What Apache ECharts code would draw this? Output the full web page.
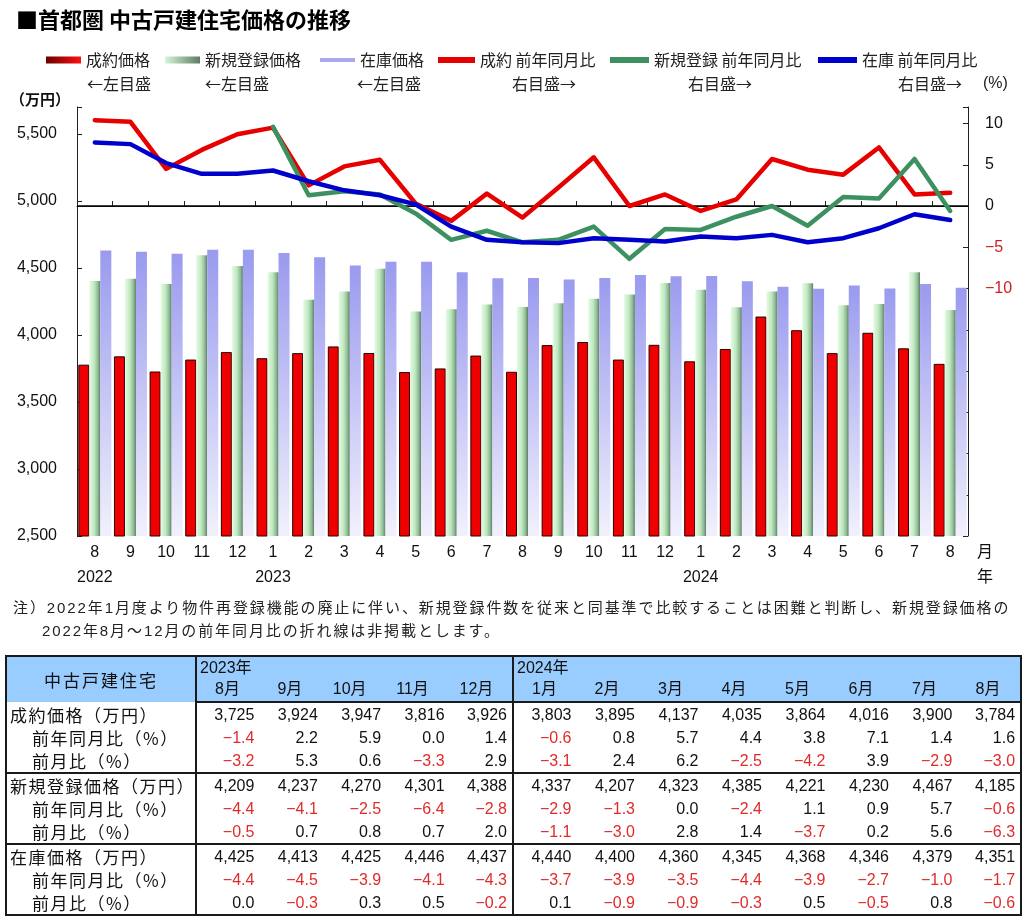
<!DOCTYPE html>
<html><head><meta charset="utf-8">
<script src="https://cdn.jsdelivr.net/npm/echarts/dist/echarts.min.js"></script>
<style>
html,body{margin:0;padding:0;background:#fff;}
#chart{position:absolute;left:0;top:0;width:1024px;height:916px;}
.note{position:absolute;font:15px/23px "Liberation Sans","Noto Sans CJK JP";letter-spacing:1.9px;color:#222;white-space:nowrap;}
#tbl{position:absolute;left:5px;top:655px;width:1015px;border-collapse:collapse;table-layout:fixed;border:2px solid #1a1a1a;}
#tbl td{padding:0;white-space:nowrap;overflow:hidden;height:23px;line-height:23px;}
#tbl td.num{font:16px/23px "Liberation Sans","Noto Sans CJK JP";text-align:right;padding-right:5px;color:#111;}
#tbl td.neg{color:#e02b2b;}
#tbl td.lab{font:17px/23px "Noto Sans CJK JP";letter-spacing:1.5px;color:#111;padding-left:3px;border-right:2px solid #1a1a1a;}
#tbl td.sub{padding-left:25px;}
#tbl td.sep{border-right:2px solid #1a1a1a;}
#tbl tr.end td{border-bottom:2px solid #1a1a1a;}
#tbl tr.hd td{background:#99ccff;font-size:16px;font-family:"Liberation Sans","Noto Sans CJK JP";color:#111;}
#tbl td.corner{font-size:17px !important;font-family:"Noto Sans CJK JP" !important;line-height:20px !important;letter-spacing:2px;text-align:center;border-right:2px solid #1a1a1a;}
</style>
</head><body>
<div id="chart"></div>
<div class="note" style="left:13px;top:596px;">注）2022年1月度より物件再登録機能の廃止に伴い、新規登録件数を従来と同基準で比較することは困難と判断し、新規登録価格の</div>
<div class="note" style="left:42px;top:619px;">2022年8月～12月の前年同月比の折れ線は非掲載とします。</div>
<table id="tbl"></table>
<script>
// ---- data ----
const categories = ['2022/8','2022/9','2022/10','2022/11','2022/12','2023/1','2023/2','2023/3','2023/4','2023/5','2023/6','2023/7','2023/8','2023/9','2023/10','2023/11','2023/12','2024/1','2024/2','2024/3','2024/4','2024/5','2024/6','2024/7','2024/8'];
const monthLabels = ['8','9','10','11','12','1','2','3','4','5','6','7','8','9','10','11','12','1','2','3','4','5','6','7','8'];
const yearLabels = ['2022','','','','','2023','','','','','','','','','','','','2024','','','','','','',''];

const contractPrice = [3778,3840,3727,3816,3872,3826,3864,3914,3865,3723,3750,3846,3725,3924,3947,3816,3926,3803,3895,4137,4035,3864,4016,3900,3784];
const newPrice = [4403,4418,4379,4595,4514,4467,4262,4323,4493,4175,4192,4226,4209,4237,4270,4301,4388,4337,4207,4323,4385,4221,4230,4467,4185];
const stockPrice = [4629,4621,4605,4636,4636,4611,4579,4518,4545,4545,4467,4423,4425,4413,4425,4446,4437,4440,4400,4360,4345,4368,4346,4379,4351];

const contractYoY = [10.4,10.2,4.5,6.8,8.7,9.5,2.5,4.8,5.6,0.3,-1.8,1.5,-1.4,2.2,5.9,0.0,1.4,-0.6,0.8,5.7,4.4,3.8,7.1,1.4,1.6];
const newYoY = [null,null,null,null,null,9.6,1.3,1.8,1.4,-0.9,-4.1,-3.0,-4.4,-4.1,-2.5,-6.4,-2.8,-2.9,-1.3,0.0,-2.4,1.1,0.9,5.7,-0.6];
const stockYoY = [7.7,7.5,5.2,3.9,3.9,4.3,3.0,1.9,1.3,0.2,-2.5,-4.1,-4.4,-4.5,-3.9,-4.1,-4.3,-3.7,-3.9,-3.5,-4.4,-3.9,-2.7,-1.0,-1.7];

// table-only values (month-on-month)
const contractMoM = [-3.2,5.3,0.6,-3.3,2.9,-3.1,2.4,6.2,-2.5,-4.2,3.9,-2.9,-3.0];
const newMoM = [-0.5,0.7,0.8,0.7,2.0,-1.1,-3.0,2.8,1.4,-3.7,0.2,5.6,-6.3];
const stockMoM = [0.0,-0.3,0.3,0.5,-0.2,0.1,-0.9,-0.9,-0.3,0.5,-0.5,0.8,-0.6];
const tableMonths2023 = ['8月','9月','10月','11月','12月'];
const tableMonths2024 = ['1月','2月','3月','4月','5月','6月','7月','8月'];

// ---- chart ----
const JP = '"Noto Sans CJK JP"';
const NUM = '"Liberation Sans"';
function comma(n){return String(n).replace(/\B(?=(\d{3})+(?!\d))/g, ',');}

const redFill = '#ee0000';
const greenGrad = {type:'linear',x:0,y:0,x2:1,y2:0,colorStops:[{offset:0,color:'#e6fae6'},{offset:0.45,color:'#bfe9bf'},{offset:0.78,color:'#90b996'},{offset:1,color:'#5c7c63'}]};
const blueGrad = {type:'linear',x:0,y:0,x2:0,y2:1,colorStops:[{offset:0,color:'#9a9aef'},{offset:1,color:'#f1f1fd'}]};
const redIcon = {type:'linear',x:0,y:0,x2:1,y2:0,colorStops:[{offset:0,color:'#6a0000'},{offset:1,color:'#ff1010'}]};
const greenIcon = {type:'linear',x:0,y:0,x2:1,y2:0,colorStops:[{offset:0,color:'#d8f5d8'},{offset:1,color:'#5c7c63'}]};

function lg(left, name, w, h, color){
  return {left:left, top:52, padding:0, itemWidth:w, itemHeight:h, selectedMode:false,
    textStyle:{fontSize:16, fontFamily:JP, color:'#222'},
    data:[{name:name, icon:'rect', itemStyle:{color:color, borderWidth:0}}]};
}
function sub(left, text){
  return {type:'text', left:left, top:76, style:{text:text, fontSize:16, fontFamily:JP, fill:'#222'}};
}

const chart = echarts.init(document.getElementById('chart'));
chart.setOption({
  animation:false,
  backgroundColor:'#fff',
  title:{text:'■首都圏 中古戸建住宅価格の推移', left:11, top:4, textStyle:{fontSize:22, fontWeight:'bold', fontFamily:JP, color:'#000'}},
  legend:[
    lg(46,'成約価格',35,7,redIcon),
    lg(165,'新規登録価格',35,7,greenIcon),
    lg(320,'在庫価格',35,4,'#a8a8f2'),
    lg(438,'成約 前年同月比',37,6,'#e60000'),
    lg(610,'新規登録 前年同月比',39,6,'#3d9160'),
    lg(818,'在庫 前年同月比',39,6,'#0000cc')
  ],
  graphic:[
    sub(87,'←左目盛'), sub(205,'←左目盛'), sub(357,'←左目盛'),
    sub(512,'右目盛→'), sub(688,'右目盛→'), sub(898,'右目盛→'),
    {type:'text', left:10, top:92, style:{text:'（万円）', fontSize:15, fontFamily:JP, fill:'#111', fontWeight:'bold'}},
    {type:'text', left:983, top:76, style:{text:'(%)', fontSize:16, fontFamily:NUM, fill:'#222'}},
    {type:'text', left:977, top:543, style:{text:'月', fontSize:16, fontFamily:JP, fill:'#111'}},
    {type:'text', left:977, top:568, style:{text:'年', fontSize:16, fontFamily:JP, fill:'#111'}}
  ],
  grid:{left:77, right:56, top:107, bottom:380},
  xAxis:{type:'category', data:categories,
    axisLine:{show:true, lineStyle:{color:'#222', width:1}},
    axisTick:{show:true, inside:true, length:5, lineStyle:{color:'#222'}},
    axisLabel:{interval:0, margin:4, fontSize:16, fontFamily:NUM, color:'#111', lineHeight:25,
      formatter:function(v,i){return monthLabels[i] + (yearLabels[i] ? '\n' + yearLabels[i] : '');}}
  },
  yAxis:[
    {type:'value', min:2500, max:5700, interval:500,
      axisLine:{show:true, lineStyle:{color:'#222', width:1}},
      axisTick:{show:true, inside:true, length:5, lineStyle:{color:'#222'}},
      splitLine:{show:false},
      axisLabel:{margin:20, fontSize:16, fontFamily:NUM, color:'#111',
        formatter:function(v){return (v % 500 === 0 && v <= 5500) ? comma(v) : '';}}
    },
    {type:'value', min:-40, max:12, interval:5, position:'right',
      axisLine:{show:true, lineStyle:{color:'#222', width:1}},
      axisTick:{show:true, inside:true, length:5, lineStyle:{color:'#222'}},
      splitLine:{show:false},
      axisLabel:{margin:17, fontSize:16, fontFamily:NUM,
        color:function(v){return Number(v) < 0 ? '#cc2020' : '#111';},
        formatter:function(v){return (v >= -10 && v <= 10 && v % 5 === 0) ? String(v).replace('-', '−') : '';}}
    }
  ],
  series:[
    {name:'成約価格', type:'bar', yAxisIndex:0, data:contractPrice, barWidth:11, barGap:'0%',
      itemStyle:{color:redFill, borderColor:'#2a0000', borderWidth:1}},
    {name:'新規登録価格', type:'bar', yAxisIndex:0, data:newPrice, barWidth:11, barGap:'0%',
      itemStyle:{color:greenGrad}},
    {name:'在庫価格', type:'bar', yAxisIndex:0, data:stockPrice, barWidth:11, barGap:'0%',
      itemStyle:{color:blueGrad}},
    {name:'成約 前年同月比', type:'line', yAxisIndex:1, data:contractYoY, symbol:'none', z:5,
      lineStyle:{color:'#e60000', width:4.5, join:'round', cap:'round'}, itemStyle:{color:'#e60000'},
      markLine:{silent:true, symbol:['none','none'], label:{show:false}, z:4,
        lineStyle:{color:'#000', width:1.5, type:'solid'}, data:[{yAxis:0}]}},
    {name:'新規登録 前年同月比', type:'line', yAxisIndex:1, data:newYoY, symbol:'none', z:6, connectNulls:false,
      lineStyle:{color:'#3d9160', width:4.5, join:'round', cap:'round'}, itemStyle:{color:'#3d9160'}},
    {name:'在庫 前年同月比', type:'line', yAxisIndex:1, data:stockYoY, symbol:'none', z:7,
      lineStyle:{color:'#0000cc', width:4.5, join:'round', cap:'round'}, itemStyle:{color:'#0000cc'}}
  ]
});

// ---- table ----
function fmtPct(v){return (v < 0 ? '−' : '') + Math.abs(v).toFixed(1);}
const tableRows = [
  ['成約価格（万円）', contractPrice.slice(12), 'price', false, false],
  ['前年同月比（%）', contractYoY.slice(12), 'pct', true, false],
  ['前月比（%）', contractMoM, 'pct', true, true],
  ['新規登録価格（万円）', newPrice.slice(12), 'price', false, false],
  ['前年同月比（%）', newYoY.slice(12), 'pct', true, false],
  ['前月比（%）', newMoM, 'pct', true, true],
  ['在庫価格（万円）', stockPrice.slice(12), 'price', false, false],
  ['前年同月比（%）', stockYoY.slice(12), 'pct', true, false],
  ['前月比（%）', stockMoM, 'pct', true, true]
];
let html = '<colgroup><col style="width:190px">';
for (let i = 0; i < 5; i++) html += '<col style="width:63.4px">';
for (let i = 0; i < 8; i++) html += '<col style="width:63.5px">';
html += '</colgroup>';
html += '<tr class="hd"><td class="corner" rowspan="2" style="height:44px;">中古戸建住宅</td>' +
  '<td colspan="5" class="sep" style="padding-left:3px;height:22px;line-height:22px;">2023年</td>' +
  '<td colspan="8" style="padding-left:3px;height:22px;line-height:22px;">2024年</td></tr>';
html += '<tr class="hd end">';
const allMonths = tableMonths2023.concat(tableMonths2024);
allMonths.forEach(function(m, i){
  const pad = m.length === 2 ? 18 : 10;
  html += '<td style="padding-left:' + pad + 'px;height:22px;line-height:20px;vertical-align:top;' + (i === 4 ? 'border-right:2px solid #1a1a1a;' : '') + '">' + m + '</td>';
});
html += '</tr>';
tableRows.forEach(function(r){
  html += '<tr' + (r[4] ? ' class="end"' : '') + '><td class="lab' + (r[3] ? ' sub' : '') + '">' + r[0] + '</td>';
  r[1].forEach(function(v, i){
    const txt = r[2] === 'price' ? comma(v) : fmtPct(v);
    const cls = 'num' + (r[2] === 'pct' && v < 0 ? ' neg' : '') + (i === 4 ? ' sep' : '');
    html += '<td class="' + cls + '">' + txt + '</td>';
  });
  html += '</tr>';
});
document.getElementById('tbl').innerHTML = html;
</script>
</body></html>
